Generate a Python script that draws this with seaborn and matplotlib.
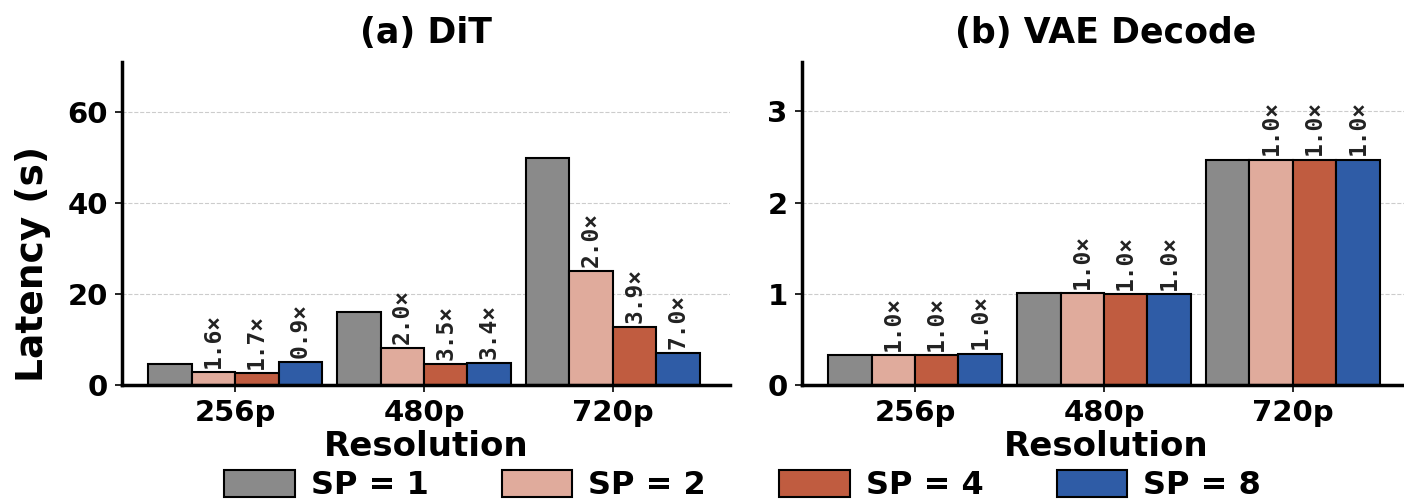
import numpy as np
import pandas as pd
import matplotlib
matplotlib.use("Agg")
import matplotlib.pyplot as plt
import seaborn as sns

# Latency measurements (seconds) per resolution and sequence-parallel degree
resolutions = ["256p", "480p", "720p"]
sp_levels = ["SP = 1", "SP = 2", "SP = 4", "SP = 8"]

dit_sp1 = [4.6, 16.1, 50.0]
dit_sp2 = [2.85, 8.1, 25.0]
dit_sp4 = [2.65, 4.6, 12.8]
dit_sp8 = [5.1, 4.75, 7.1]

vae_sp1 = [0.33, 1.01, 2.47]
vae_sp2 = [0.33, 1.01, 2.47]
vae_sp4 = [0.33, 1.00, 2.47]
vae_sp8 = [0.345, 1.00, 2.47]

colors = ["#8a8a8a", "#e0ab9c", "#c05c40", "#2f5ca6"]

sns.set_style("white")
plt.rcParams["font.family"] = ["DejaVu Sans"]
plt.rcParams["font.weight"] = "bold"
plt.rcParams["text.color"] = "black"
plt.rcParams["axes.labelcolor"] = "black"
plt.rcParams["xtick.color"] = "black"
plt.rcParams["ytick.color"] = "black"


def long_table(series):
    rows = []
    for sp, vals in zip(sp_levels, series):
        for res, v in zip(resolutions, vals):
            rows.append({"Resolution": res, "SP": sp, "Latency": v})
    return pd.DataFrame(rows)


fig = plt.figure(figsize=(14.04, 5.04), dpi=100)
ax_a = fig.add_axes([0.0867, 0.2361, 0.4333, 0.6409])
ax_b = fig.add_axes([0.5710, 0.2361, 0.4333, 0.6409])

panels = [
    (ax_a, [dit_sp1, dit_sp2, dit_sp4, dit_sp8], "(a) DiT", (0, 71), [0, 20, 40, 60]),
    (ax_b, [vae_sp1, vae_sp2, vae_sp4, vae_sp8], "(b) VAE Decode", (0, 3.54), [0, 1, 2, 3]),
]

for ax, series, title, ylim, yticks in panels:
    df = long_table(series)
    sns.barplot(
        data=df, x="Resolution", y="Latency", hue="SP",
        hue_order=sp_levels, order=resolutions,
        palette=colors, saturation=1, width=0.92, gap=0,
        edgecolor="black", linewidth=1.5, ax=ax, legend=(ax is ax_a),
    )
    base = np.array(series[0])
    for k, cont in enumerate(ax.containers):
        if k == 0:
            continue
        speedup = base / np.array(series[k])
        ax.bar_label(
            cont, labels=[f"{s:.1f}×" for s in speedup], padding=3,
            rotation=90, fontsize=16.5, fontweight="bold", color="#222222",
            fontfamily="DejaVu Sans Mono",
        )
    ax.set_xlim(-0.6, 2.62)
    ax.set_ylim(*ylim)
    ax.set_yticks(yticks)
    ax.set_title(title, fontsize=25, fontweight="bold", pad=14)
    ax.set_xlabel("Resolution", fontsize=24.5, fontweight="bold", labelpad=2)
    ax.set_ylabel("")
    ax.grid(axis="y", linestyle="--", linewidth=0.8, color="#cccccc")
    ax.set_axisbelow(True)
    for side in ("top", "right"):
        ax.spines[side].set_visible(False)
    for side in ("left", "bottom"):
        ax.spines[side].set_linewidth(2.5)
        ax.spines[side].set_color("black")
    ax.tick_params(axis="both", labelsize=21, length=5, width=1.2,
                   direction="out", bottom=True, left=True, pad=5)
    for lbl in ax.get_xticklabels() + ax.get_yticklabels():
        lbl.set_fontweight("bold")

ax_a.set_ylabel("Latency (s)", fontsize=27, fontweight="bold")
ax_a.yaxis.set_label_coords(-0.117, 0.375)

handles, labels = ax_a.get_legend_handles_labels()
ax_a.get_legend().remove()
fig.legend(
    handles, labels, loc="center", bbox_to_anchor=(0.529, 0.036),
    ncol=4, frameon=False, handlelength=2.2, handleheight=0.9,
    handletextpad=0.5, columnspacing=2.3,
    prop={"weight": "bold", "size": 23},
)

fig.savefig("out.png", dpi=100)
